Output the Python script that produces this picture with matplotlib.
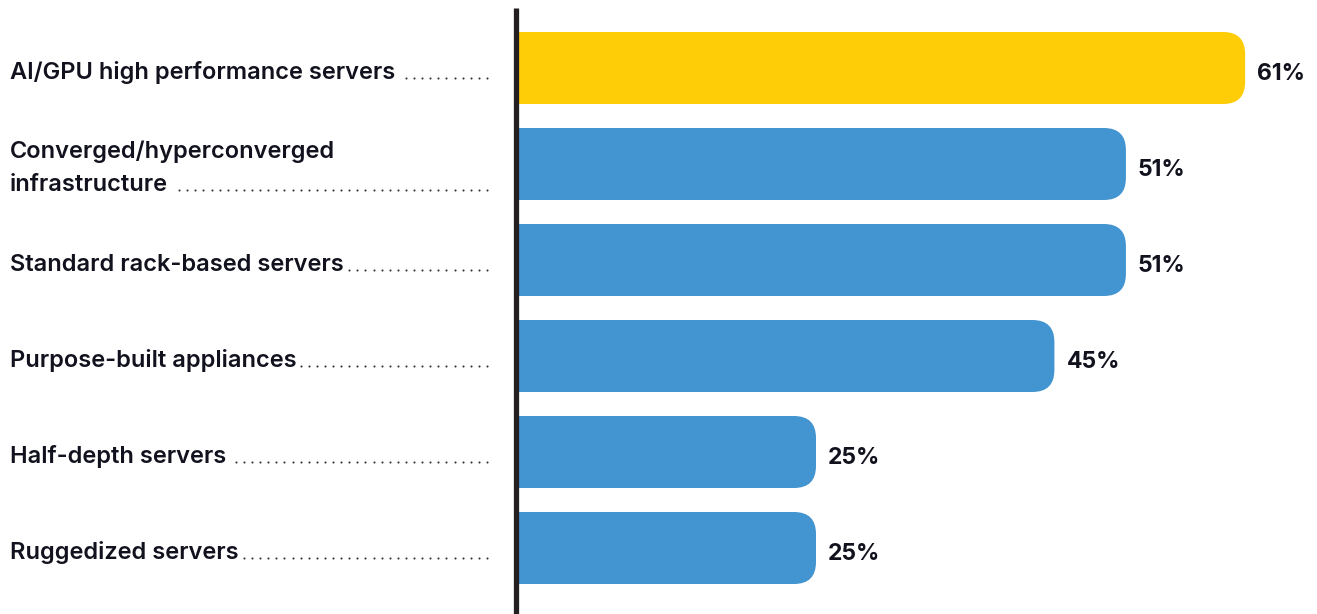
import matplotlib
matplotlib.use("Agg")
import matplotlib.pyplot as plt
from matplotlib.patches import FancyBboxPatch, Rectangle
from matplotlib.lines import Line2D
from matplotlib.transforms import blended_transform_factory

# Server types and share of respondents (%)
categories = [
    "AI/GPU high performance servers",
    "Converged/hyperconverged\ninfrastructure",
    "Standard rack-based servers",
    "Purpose-built appliances",
    "Half-depth servers",
    "Ruggedized servers",
]
values = [61, 51, 51, 45, 25, 25]
highlight = [True, False, False, False, False, False]

YELLOW = "#FFCC08"
BLUE = "#4395D1"
INK = "#12121f"
FONT = "Inter"

W, H, DPI = 1317, 614, 100
X0 = 518            # pixel where bars start
PX_PER_PCT = 11.92  # horizontal scale
ROW = 96            # pixels between bar centres
FIRST = 68          # pixel (from top) of first bar centre
BAR_H = 0.75        # bar height in row units
RADIUS = 22         # corner radius in pixels

fig = plt.figure(figsize=(W / DPI, H / DPI), dpi=DPI)
ax_w = W - X0
ax = fig.add_axes([X0 / W, 0, ax_w / W, 1])
ax.set_xlim(0, ax_w / PX_PER_PCT)
ax.set_ylim((H - FIRST) / ROW, -FIRST / ROW)
ax.axis("off")

# rounded right end only: rounded box + square patch over the left half
r = RADIUS / PX_PER_PCT
aspect = PX_PER_PCT / ROW
for i, (v, hl) in enumerate(zip(values, highlight)):
    c = YELLOW if hl else BLUE
    ax.add_patch(FancyBboxPatch((0, i - BAR_H / 2), v, BAR_H,
                                boxstyle=f"round,pad=0,rounding_size={r}",
                                mutation_aspect=aspect, fc=c, ec="none"))
    ax.add_patch(Rectangle((0, i - BAR_H / 2), v / 2, BAR_H, fc=c, ec="none"))
    ax.text(v + 12 / PX_PER_PCT, i + 12 / ROW, f"{v}%", fontsize=16.5,
            fontfamily=FONT, fontweight="bold", color=INK, va="baseline")

# vertical axis line
fig.add_artist(Line2D([515.5 / W] * 2, [0, 1 - 8 / H], color="#231f20",
                      linewidth=3.8, solid_capstyle="butt"))

# category labels with dotted leaders
trans = blended_transform_factory(fig.transFigure, ax.transData)
labels = []
for i, lab in enumerate(categories):
    lines = lab.split("\n")
    base = i + (11 if len(lines) == 1 else 27) / ROW
    t = ax.text(10 / W, base, lines[-1], transform=trans, fontsize=17,
                fontfamily=FONT, fontweight="semibold", color=INK, va="baseline")
    if len(lines) > 1:
        ax.text(10 / W, base - 33 / ROW, lines[0], transform=trans, fontsize=17,
                fontfamily=FONT, fontweight="semibold", color=INK, va="baseline")
    labels.append((t, base))

fig.canvas.draw()
ren = fig.canvas.get_renderer()
for t, base in labels:
    x_end = t.get_window_extent(ren).x1
    xs = []
    x = 487
    while x > x_end + 4:
        xs.append(x)
        x -= 8.1
    ax.plot([p / W for p in xs], [base - 1 / ROW] * len(xs), transform=trans,
            linestyle="none", marker="o", markersize=1.5, color="#333340",
            markeredgewidth=0, clip_on=False)

fig.savefig("out.png", dpi=DPI, facecolor="white")
